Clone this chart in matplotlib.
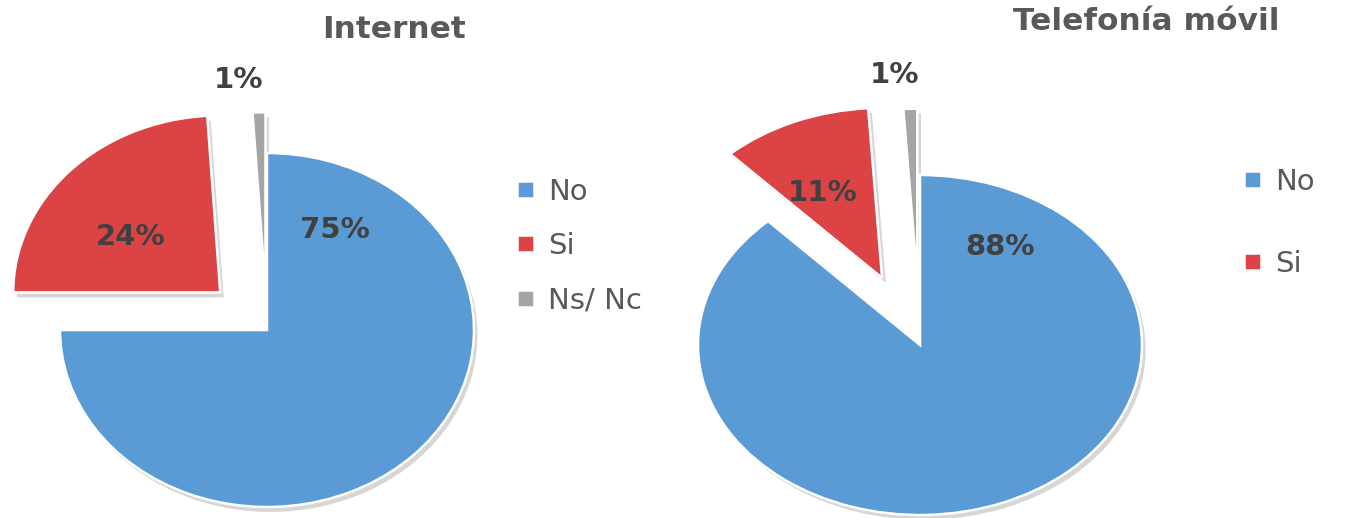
import matplotlib
matplotlib.use("Agg")
import matplotlib.pyplot as plt

# ---- data ----
internet_labels = ["No", "Si", "Ns/ Nc"]
internet_values = [75, 24, 1]
movil_labels = ["No", "Si", "Ns/ Nc"]
movil_values = [88, 11, 1]
movil_legend_count = 2

colors = ["#5B9BD5", "#DB4345", "#A5A5A5"]
text_dark = "#404040"
title_grey = "#595959"

W, H = 1351, 518
fig = plt.figure(figsize=(W / 100, H / 100), dpi=100)
fig.patch.set_facecolor("white")

FONT = "DejaVu Sans"


def make_pie(cx, cy, rx, ry, values, explode, label_pos):
    L = 2.0
    ax = fig.add_axes([(cx - L * rx) / W, (H - cy - L * ry) / H,
                       2 * L * rx / W, 2 * L * ry / H])
    wedges, _ = ax.pie(values, colors=colors, startangle=90, counterclock=False,
                       explode=explode,
                       wedgeprops=dict(edgecolor="white", linewidth=1.8),
                       shadow=dict(ox=0.012, oy=-0.02, facecolor="#8a8a8a",
                                   edgecolor="none", alpha=0.35))
    ax.set_aspect("auto")
    ax.set_xlim(-L, L)
    ax.set_ylim(-L, L)
    ax.axis("off")
    for v, (x, y) in zip(values, label_pos):
        ax.text(x, y, f"{v}%", ha="center", va="center", fontsize=21,
                fontweight="bold", color=text_dark, family=FONT, clip_on=False)
    return ax, wedges


# Internet
ax1, w1 = make_pie(267, 330, 207, 177, internet_values, [0, 0.31, 0.23],
                   [(0.33, 0.565), (-0.66, 0.525), (-0.14, 1.41)])
# Telefonía móvil
ax2, w2 = make_pie(920, 345, 222, 170, movil_values, [0, 0.43, 0.39],
                   [(0.36, 0.576), (-0.44, 0.894), (-0.113, 1.59)])

fig.text(394 / W, 1 - 30 / H, "Internet", ha="center", va="center",
         fontsize=22.5, fontweight="bold", color=title_grey, family=FONT)
fig.text(1146 / W, 1 - 22 / H, "Telefonía móvil", ha="center", va="center",
         fontsize=22.5, fontweight="bold", color=title_grey, family=FONT)

leg_kw = dict(frameon=False, handlelength=0.58, handleheight=0.52,
              handletextpad=0.5, borderpad=0, borderaxespad=0,
              prop=dict(family=FONT, size=21))
leg1 = fig.legend(w1, internet_labels, loc="upper left",
                  bbox_to_anchor=(517 / W, 1 - 178 / H), labelspacing=0.9,
                  **leg_kw)
leg2 = fig.legend(w2[:movil_legend_count], movil_labels[:movil_legend_count],
                  loc="upper left", bbox_to_anchor=(1244 / W, 1 - 168 / H),
                  labelspacing=1.86, **leg_kw)
for leg in (leg1, leg2):
    for t in leg.get_texts():
        t.set_color(title_grey)

fig.savefig("out.png", dpi=100, facecolor="white")
